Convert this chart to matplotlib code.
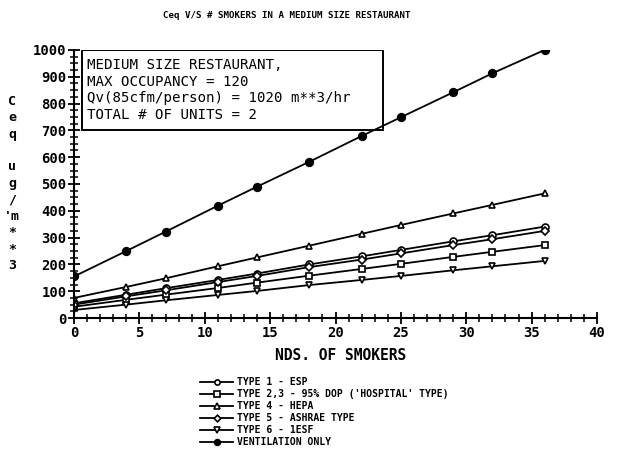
import matplotlib
matplotlib.use("Agg")
import matplotlib.pyplot as plt
from matplotlib.ticker import MultipleLocator
from matplotlib.patches import Rectangle

smokers = [0, 4, 7, 11, 14, 18, 22, 25, 29, 32, 36]
type1_esp = [55, 87, 111, 142, 166, 200, 230, 254, 286, 309, 341]
type23_dop = [42, 68, 87, 112, 132, 158, 183, 202, 228, 247, 272]
type4_hepa = [75, 116, 148, 193, 226, 270, 314, 347, 390, 422, 465]
type5_ashrae = [50, 81, 103, 134, 157, 190, 218, 241, 272, 294, 325]
type6_1esf = [30, 50, 66, 86, 101, 123, 142, 157, 178, 193, 213]
ventilation = [155, 250, 322, 419, 490, 583, 679, 749, 842, 913, 1000]

labels = ["TYPE 1 - ESP",
          "TYPE 2,3 - 95% DOP ('HOSPITAL' TYPE)",
          "TYPE 4 - HEPA",
          "TYPE 5 - ASHRAE TYPE",
          "TYPE 6 - 1ESF",
          "VENTILATION ONLY"]
box_lines = ["MEDIUM SIZE RESTAURANT,",
             "MAX OCCUPANCY = 120",
             "Qv(85cfm/person) = 1020 m**3/hr",
             "TOTAL # OF UNITS = 2"]
series = [type1_esp, type23_dop, type4_hepa, type5_ashrae, type6_1esf, ventilation]
markers = ["o", "s", "^", "D", "v", "o"]
fills = ["white", "white", "white", "white", "white", "black"]
sizes = [5, 5, 5, 4.5, 5, 5.5]

MONO = ['DejaVu Sans Mono']
plt.rcParams['font.family'] = MONO
fig = plt.figure(figsize=(6.17, 4.5), dpi=100)
ax = fig.add_axes([0.12, 0.2933, 0.8476, 0.5957])

handles = []
for ys, m, fc, ms, lab in zip(series, markers, fills, sizes, labels):
    h, = ax.plot(smokers, ys, color="black", lw=1.3, marker=m, ms=ms,
                 mfc=fc, mec="black", mew=1.2, label=lab)
    handles.append(h)

ax.set_xlim(0, 40)
ax.set_ylim(0, 1000)
ax.spines['top'].set_visible(False)
ax.spines['right'].set_visible(False)
ax.spines['left'].set_linewidth(1.5)
ax.spines['bottom'].set_linewidth(1.5)
ax.xaxis.set_major_locator(MultipleLocator(5))
ax.xaxis.set_minor_locator(MultipleLocator(1))
ax.yaxis.set_major_locator(MultipleLocator(100))
ax.yaxis.set_minor_locator(MultipleLocator(25))
ax.tick_params(which="major", direction="inout", length=9, width=1.3,
               labelsize=10, pad=1)
ax.tick_params(which="minor", direction="inout", length=6, width=1.1)
for t in ax.get_xticklabels() + ax.get_yticklabels():
    t.set_fontweight("bold")

# annotation box
ax.add_patch(Rectangle((0.6, 700), 23.0, 300, fill=False, ec="black",
                       lw=1.4, zorder=1))
for yv, line in zip([944, 880, 820, 757], box_lines):
    ax.text(1.0, yv, line, ha="left", va="center", fontsize=10.2)

fig.text(0.464, 0.966, "Ceq V/S # SMOKERS IN A MEDIUM SIZE RESTAURANT",
         ha="center", va="center", fontsize=6.6, fontweight="bold")
fig.text(0.552, 0.211, "NDS. OF SMOKERS", ha="center", va="center",
         fontsize=10.5, fontweight="bold")

ylab = ["C", "e", "q", "", "u", "g", "/", "'m", "*", "*", "3"]
y0 = 0.775
for i, ch in enumerate(ylab):
    fig.text(0.02, y0 - i * 0.0365, ch, ha="center", va="center",
             fontsize=9.5, fontweight="bold")

leg = fig.legend(handles=handles, loc="upper left",
                 bbox_to_anchor=(0.318, 0.17), frameon=False,
                 fontsize=7, handlelength=3.4, handletextpad=0.4,
                 labelspacing=0.2, borderaxespad=0, markerscale=0.75)
for t in leg.get_texts():
    t.set_fontweight("bold")

fig.savefig("out.png", dpi=100)
